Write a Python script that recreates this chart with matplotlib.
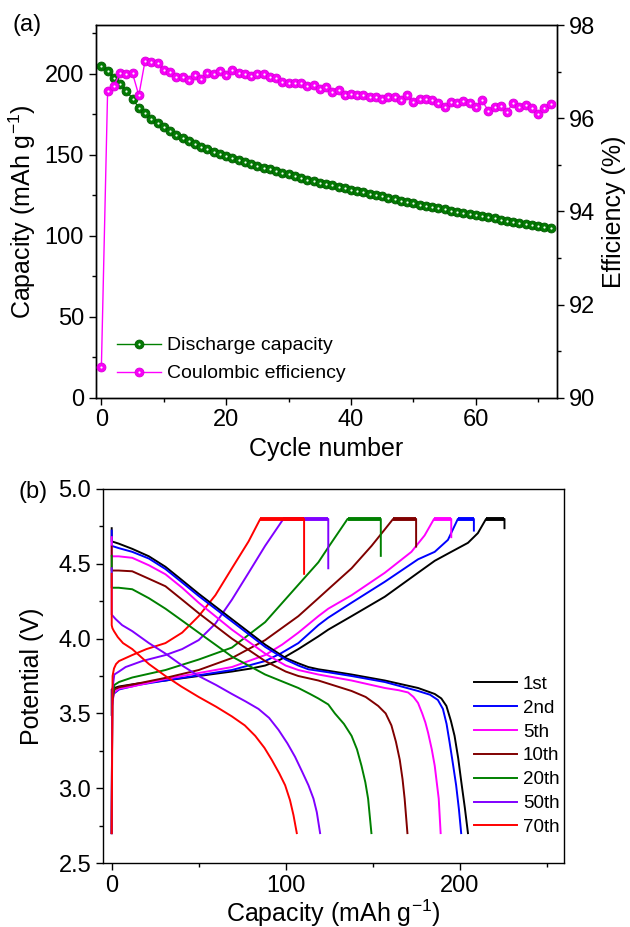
import numpy as np
import matplotlib.pyplot as plt
from matplotlib.ticker import MultipleLocator

plt.rcParams['font.family'] = ['Liberation Sans', 'DejaVu Sans']
plt.rcParams['mathtext.default'] = 'regular'

# ---------- panel (a): cycling ----------
cycles = np.arange(73)
capacity = [204.8, 201.4, 197.6, 193.9, 189.4, 184.6, 178.9, 175.4, 172.3, 169.6,
            167.2, 164.7, 162.4, 160.4, 158.5, 156.5, 154.8, 153.2, 151.8, 150.3,
            148.9, 147.7, 146.4, 145.2, 144.2, 142.9, 141.9, 140.9, 139.8, 138.8,
            137.8, 136.6, 135.4, 134.5, 133.6, 132.7, 131.8, 131.0, 130.1, 129.3,
            128.4, 127.6, 126.8, 126.0, 125.1, 124.2, 123.4, 122.5, 121.7, 120.9,
            120.1, 119.2, 118.4, 117.6, 116.9, 116.2, 115.5, 114.8, 114.1, 113.4,
            112.7, 112.0, 111.3, 110.6, 109.9, 109.3, 108.7, 108.0, 107.4, 106.8,
            106.1, 105.3, 104.5]
efficiency = [90.65, 96.59, 96.70, 96.96, 96.95, 96.96, 96.49, 97.23, 97.20, 97.18,
              97.04, 96.99, 96.88, 96.89, 96.82, 96.93, 96.85, 96.97, 96.95, 97.02,
              96.92, 97.04, 96.96, 96.95, 96.90, 96.95, 96.95, 96.88, 96.87, 96.78,
              96.76, 96.76, 96.75, 96.70, 96.71, 96.62, 96.66, 96.57, 96.61, 96.50,
              96.53, 96.50, 96.49, 96.45, 96.45, 96.42, 96.45, 96.45, 96.39, 96.49,
              96.34, 96.41, 96.41, 96.38, 96.33, 96.25, 96.35, 96.33, 96.36, 96.33,
              96.25, 96.38, 96.16, 96.25, 96.27, 96.14, 96.33, 96.23, 96.28, 96.21,
              96.09, 96.21, 96.30]

# ---------- panel (b): charge / discharge profiles ----------
labels = ['1st', '2nd', '5th', '10th', '20th', '50th', '70th']
colors = ['#000000', '#0000ff', '#ff00ff', '#800000', '#008000', '#8000ff', '#ff0000']

charge_cap_1st = [0, 0, 1.5, 4.2, 15, 30.9, 50, 69.1, 80, 88.2, 97, 107.3, 118.8, 124.5,
                  137.9, 157, 176.1, 185.7, 195.2, 204.8, 210.5, 215.2, 225.8, 225.8]
charge_v_1st = [3.49, 3.66, 3.67, 3.68, 3.70, 3.72, 3.75, 3.78, 3.80, 3.82, 3.86, 3.93, 4.015, 4.06,
                4.15, 4.28, 4.44, 4.52, 4.58, 4.64, 4.705, 4.8, 4.8, 4.738]
charge_cap_2nd = [0, 0.3, 1, 4.2, 15, 30.9, 50, 69.1, 88.2, 97, 107.3, 118.8, 124.5, 137.9,
                  157, 176.1, 185.7, 193.3, 199, 208.2, 208.2]
charge_v_2nd = [2.7, 3.55, 3.63, 3.66, 3.69, 3.72, 3.755, 3.79, 3.85, 3.90, 3.97, 4.09, 4.14, 4.24,
                4.38, 4.53, 4.58, 4.66, 4.8, 4.8, 4.722]
charge_cap_5th = [0, 0.3, 1.3, 4.2, 11.8, 30.9, 50, 69.1, 88.2, 98, 107.3, 118.8, 124.5, 137.9,
                  157, 172.3, 179.9, 185.3, 195.2, 195.2]
charge_v_5th = [2.7, 3.56, 3.64, 3.665, 3.68, 3.73, 3.77, 3.81, 3.89, 3.96, 4.04, 4.15, 4.20, 4.29,
                4.44, 4.58, 4.69, 4.8, 4.8, 4.678]
charge_cap_10th = [0, 0.3, 1.5, 4.2, 15, 31.9, 50, 69.1, 88.2, 107.3, 118.8, 124.5, 137.9,
                   149.4, 157, 161.8, 175, 175]
charge_v_10th = [2.7, 3.58, 3.66, 3.675, 3.70, 3.74, 3.79, 3.87, 3.99, 4.15, 4.27, 4.33, 4.47,
                 4.62, 4.73, 4.8, 4.8, 4.615]
charge_cap_20th = [0, 0.3, 1.5, 4.2, 11.8, 30.9, 50, 69.1, 88.2, 107.3, 118.8, 124.5, 135.6,
                   154.7, 154.7]
charge_v_20th = [2.7, 3.6, 3.69, 3.71, 3.74, 3.79, 3.86, 3.94, 4.11, 4.36, 4.51, 4.61, 4.8,
                 4.8, 4.553]
charge_cap_50th = [0, 0.3, 1.5, 4.2, 8, 17.5, 30.9, 40.5, 50, 59.6, 69.1, 78.7, 88.2, 98.7,
                   124.5, 124.5]
charge_v_50th = [2.7, 3.65, 3.76, 3.78, 3.81, 3.85, 3.89, 3.93, 3.99, 4.10, 4.26, 4.44, 4.62, 4.8,
                 4.8, 4.47]
charge_cap_70th = [0, 0.5, 1.3, 2.5, 4.2, 11.8, 20, 30.9, 40.5, 50, 59.6, 69.1, 78.7, 85.4,
                   110.6, 110.6]
charge_v_70th = [2.7, 3.75, 3.80, 3.83, 3.85, 3.89, 3.93, 3.97, 4.04, 4.15, 4.29, 4.47, 4.65, 4.8,
                 4.8, 4.433]

dis_cap_1st = [0, 0, 4, 11.8, 21.4, 30.9, 40.5, 50, 69.1, 88.2, 100, 107.3, 113, 118.8, 124.5,
               137.9, 157, 176.1, 185.7, 189.5, 192.4, 195, 197.1, 199.2, 201, 203, 204.8]
dis_v_1st = [4.738, 4.65, 4.635, 4.60, 4.55, 4.48, 4.39, 4.30, 4.13, 3.96, 3.87, 3.835, 3.81, 3.795,
             3.785, 3.76, 3.72, 3.67, 3.63, 3.60, 3.55, 3.45, 3.35, 3.20, 3.04, 2.87, 2.70]
dis_cap_2nd = [0, 0, 4, 11.8, 21.4, 30.9, 40.5, 50, 69.1, 88.2, 100, 107.3, 113, 118.8, 124.5,
               137.9, 157, 176.1, 183, 187.5, 190.4, 192.5, 194.2, 196.2, 198, 199.6, 200.9]
dis_v_2nd = [4.722, 4.62, 4.605, 4.58, 4.535, 4.465, 4.375, 4.285, 4.115, 3.945, 3.86, 3.82, 3.795,
             3.785, 3.775, 3.75, 3.71, 3.65, 3.625, 3.59, 3.53, 3.43, 3.31, 3.16, 3.02, 2.86, 2.70]
dis_cap_5th = [0, 0, 4, 11.8, 21.4, 30.9, 40.5, 50, 69.1, 88.2, 100, 107.3, 118.8, 137.9, 157, 165,
               170.4, 173.5, 176.1, 178.5, 180.3, 181.9, 184, 185.7, 188, 189.1]
dis_v_5th = [4.678, 4.55, 4.55, 4.54, 4.49, 4.43, 4.34, 4.24, 4.06, 3.90, 3.82, 3.79, 3.76, 3.72,
             3.67, 3.655, 3.64, 3.61, 3.57, 3.50, 3.44, 3.37, 3.26, 3.15, 2.93, 2.70]
dis_cap_10th = [0, 0, 4, 11.8, 21.4, 30.9, 40.5, 50, 69.1, 88.2, 100, 107.3, 118.8, 137.9, 146,
                153.2, 157.5, 160.8, 163.4, 165.6, 167.2, 168.4, 170]
dis_v_10th = [4.615, 4.455, 4.455, 4.45, 4.40, 4.35, 4.26, 4.17, 4.00, 3.85, 3.78, 3.75, 3.72, 3.65,
              3.61, 3.55, 3.50, 3.42, 3.31, 3.19, 3.06, 2.93, 2.70]
dis_cap_20th = [0, 0, 4, 11.8, 21.4, 30.9, 40.5, 50, 69.1, 88.2, 107.3, 114, 118.8, 124.5, 128.3,
                133.5, 137.9, 141, 143.6, 145.8, 147.4, 149.3]
dis_v_20th = [4.553, 4.34, 4.34, 4.33, 4.27, 4.20, 4.12, 4.04, 3.88, 3.76, 3.67, 3.63, 3.60, 3.56,
              3.50, 3.43, 3.35, 3.26, 3.15, 3.04, 2.93, 2.70]
dis_cap_50th = [0, 0, 2.3, 6, 11.8, 21.4, 30.9, 40.5, 50, 60, 69.1, 77, 84.4, 90.5, 95.9, 101,
                105.4, 109.5, 113.1, 116, 117.9, 119.8]
dis_v_50th = [4.47, 4.16, 4.13, 4.09, 4.05, 3.97, 3.90, 3.82, 3.75, 3.69, 3.63, 3.58, 3.53, 3.47,
              3.39, 3.30, 3.21, 3.11, 3.02, 2.93, 2.84, 2.70]
dis_cap_70th = [0, 0, 0.4, 1.3, 3.5, 6.5, 11.8, 21.4, 30.9, 40, 50, 60, 69.1, 76.5, 82.5, 87.8, 92,
                96.3, 99.7, 102.5, 104.5, 106.4]
dis_v_70th = [4.433, 4.09, 4.07, 4.05, 4.01, 3.97, 3.93, 3.83, 3.75, 3.68, 3.61, 3.545, 3.48, 3.42,
              3.35, 3.27, 3.19, 3.10, 3.02, 2.92, 2.82, 2.70]

charge_caps = [charge_cap_1st, charge_cap_2nd, charge_cap_5th, charge_cap_10th,
               charge_cap_20th, charge_cap_50th, charge_cap_70th]
charge_vs = [charge_v_1st, charge_v_2nd, charge_v_5th, charge_v_10th,
             charge_v_20th, charge_v_50th, charge_v_70th]
dis_caps = [dis_cap_1st, dis_cap_2nd, dis_cap_5th, dis_cap_10th,
            dis_cap_20th, dis_cap_50th, dis_cap_70th]
dis_vs = [dis_v_1st, dis_v_2nd, dis_v_5th, dis_v_10th,
          dis_v_20th, dis_v_50th, dis_v_70th]

fig = plt.figure(figsize=(6.3, 9.27), dpi=100)
ax1 = fig.add_axes([0.152, 0.571, 0.732, 0.402])
ax2 = ax1.twinx()
axb = fig.add_axes([0.1635, 0.069, 0.7317, 0.4035])

tick_fs = 17
label_fs = 18

# (a) capacity: dark spheres with a small light highlight
ax1.plot(cycles, capacity, '-', color='#008000', lw=1, marker='o', ms=6.4,
         mfc='#037a03', mec='#005a00', mew=0.6, zorder=3)
ax1.plot(cycles, capacity, 'o', ms=1.6, color='#f2fff2', mew=0, zorder=4)
ax1.set_xlim(-0.9, 73)
ax1.set_ylim(0, 230)
ax1.xaxis.set_major_locator(MultipleLocator(20))
ax1.xaxis.set_minor_locator(MultipleLocator(10))
ax1.yaxis.set_major_locator(MultipleLocator(50))
ax1.yaxis.set_minor_locator(MultipleLocator(25))
ax1.set_xlabel('Cycle number', fontsize=label_fs)
ax1.set_ylabel('Capacity (mAh g$^{-1}$)', fontsize=label_fs)
ax1.xaxis.set_label_coords(0.5, -0.105)
ax1.yaxis.set_label_coords(-0.125, 0.5)

# (a) efficiency
ax2.plot(cycles, efficiency, '-', color='#ff00ff', lw=1, marker='o', ms=6.4,
         mfc='#f800f8', mec='#d800d8', mew=0.6, zorder=3)
ax2.plot(cycles, efficiency, 'o', ms=1.6, color='#fff0ff', mew=0, zorder=4)
ax2.set_ylim(90, 98)
ax2.yaxis.set_major_locator(MultipleLocator(2))
ax2.yaxis.set_minor_locator(MultipleLocator(1))
ax2.set_ylabel('Efficiency (%)', fontsize=label_fs)
ax2.yaxis.set_label_coords(1.097, 0.5)

h1a = plt.Line2D([], [], color='#008000', lw=1, marker='o', ms=6.4, mfc='#037a03',
                 mec='#005a00', mew=0.6)
h1b = plt.Line2D([], [], ls='none', marker='o', ms=1.6, color='#f2fff2', mew=0)
h2a = plt.Line2D([], [], color='#ff00ff', lw=1, marker='o', ms=6.4, mfc='#f800f8',
                 mec='#d800d8', mew=0.6)
h2b = plt.Line2D([], [], ls='none', marker='o', ms=1.6, color='#fff0ff', mew=0)
ax2.legend([(h1a, h1b), (h2a, h2b)], ['Discharge capacity', 'Coulombic efficiency'],
           loc='upper left', bbox_to_anchor=(0.045, 0.1635), frameon=False, fontsize=14,
           handlelength=2.3, handletextpad=0.3, labelspacing=0.54, borderaxespad=0, borderpad=0)

for ax in (ax1, ax2, axb):
    ax.tick_params(which='major', direction='out', length=5, width=1, labelsize=tick_fs)
    ax.tick_params(which='minor', direction='out', length=3, width=1)
    for s in ax.spines.values():
        s.set_linewidth(1)
ax1.tick_params(which='both', top=False, right=False)
ax2.tick_params(which='both', left=False, top=False)

# (b) voltage profiles
for cap, v, c in zip(charge_caps, charge_vs, colors):
    axb.plot(cap, v, color=c, lw=1.4)
    plateau = [i for i, val in enumerate(v) if val >= 4.8]
    axb.plot([cap[i] for i in plateau], [v[i] for i in plateau], color=c, lw=2.8,
             solid_capstyle='butt')
for cap, v, c, lab in zip(dis_caps, dis_vs, colors, labels):
    axb.plot(cap, v, color=c, lw=1.4, label=lab)
axb.set_xlim(-5, 260)
axb.set_ylim(2.5, 5.0)
axb.xaxis.set_major_locator(MultipleLocator(100))
axb.xaxis.set_minor_locator(MultipleLocator(50))
axb.yaxis.set_major_locator(MultipleLocator(0.5))
axb.yaxis.set_minor_locator(MultipleLocator(0.25))
axb.yaxis.set_major_formatter(plt.FormatStrFormatter('%.1f'))
axb.tick_params(which='both', top=False, right=False)
axb.set_xlabel('Capacity (mAh g$^{-1}$)', fontsize=label_fs)
axb.set_ylabel('Potential (V)', fontsize=label_fs)
axb.xaxis.set_label_coords(0.5, -0.092)
axb.yaxis.set_label_coords(-0.128, 0.5)
axb.legend(loc='upper left', bbox_to_anchor=(0.805, 0.501), frameon=False, fontsize=13.5,
           handlelength=2.3, handletextpad=0.3, labelspacing=0.36, borderaxespad=0, borderpad=0)

fig.text(0.02, 0.973, '(a)', fontsize=tick_fs, va='center', ha='left')
fig.text(0.03, 0.469, '(b)', fontsize=tick_fs, va='center', ha='left')

fig.savefig('out.png', dpi=100)
